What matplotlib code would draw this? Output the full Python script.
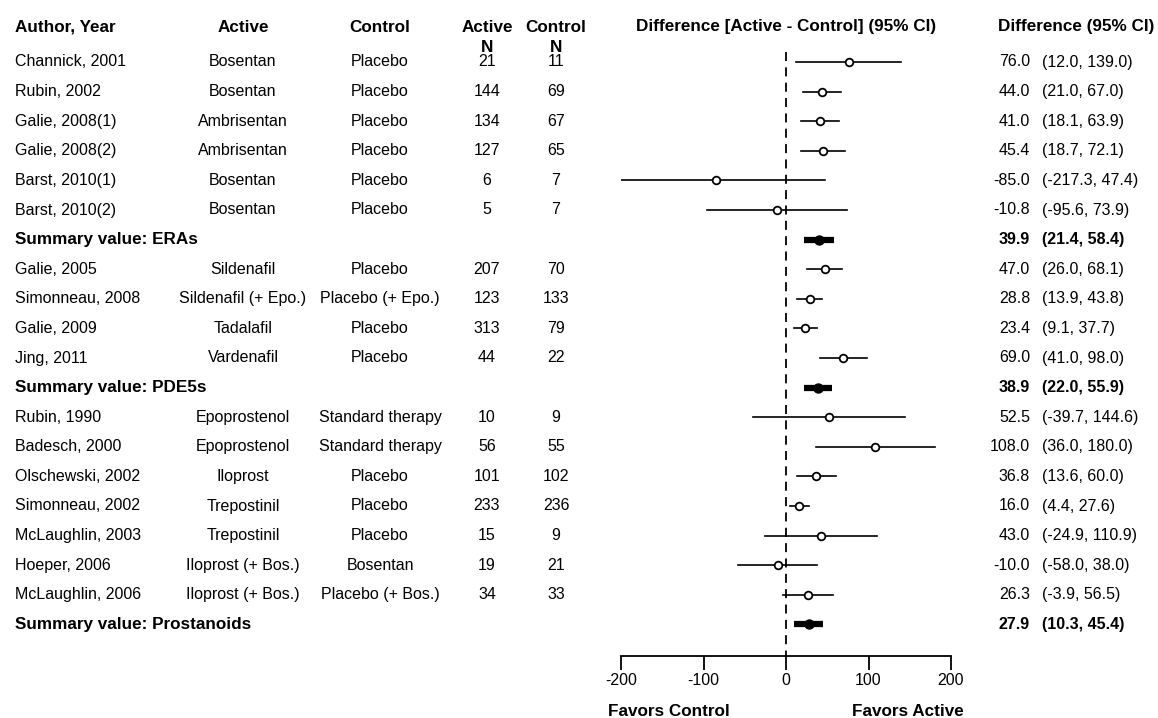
import matplotlib
matplotlib.use("Agg")
import matplotlib.pyplot as plt
import matplotlib.transforms as mtransforms

plt.rcParams['font.family'] = ['Liberation Sans', 'DejaVu Sans']

# Donnees du forest plot
authors = ["Channick, 2001", "Rubin, 2002", "Galie, 2008(1)", "Galie, 2008(2)",
           "Barst, 2010(1)", "Barst, 2010(2)", "Summary value: ERAs",
           "Galie, 2005", "Simonneau, 2008", "Galie, 2009", "Jing, 2011",
           "Summary value: PDE5s",
           "Rubin, 1990", "Badesch, 2000", "Olschewski, 2002", "Simonneau, 2002",
           "McLaughlin, 2003", "Hoeper, 2006", "McLaughlin, 2006",
           "Summary value: Prostanoids"]
actives = ["Bosentan", "Bosentan", "Ambrisentan", "Ambrisentan", "Bosentan", "Bosentan", "",
           "Sildenafil", "Sildenafil (+ Epo.)", "Tadalafil", "Vardenafil", "",
           "Epoprostenol", "Epoprostenol", "Iloprost", "Trepostinil", "Trepostinil",
           "Iloprost (+ Bos.)", "Iloprost (+ Bos.)", ""]
controls = ["Placebo", "Placebo", "Placebo", "Placebo", "Placebo", "Placebo", "",
            "Placebo", "Placebo (+ Epo.)", "Placebo", "Placebo", "",
            "Standard therapy", "Standard therapy", "Placebo", "Placebo", "Placebo",
            "Bosentan", "Placebo (+ Bos.)", ""]
n_active = ["21", "144", "134", "127", "6", "5", "",
            "207", "123", "313", "44", "",
            "10", "56", "101", "233", "15", "19", "34", ""]
n_control = ["11", "69", "67", "65", "7", "7", "",
             "70", "133", "79", "22", "",
             "9", "55", "102", "236", "9", "21", "33", ""]
est = [76.0, 44.0, 41.0, 45.4, -85.0, -10.8, 39.9,
       47.0, 28.8, 23.4, 69.0, 38.9,
       52.5, 108.0, 36.8, 16.0, 43.0, -10.0, 26.3, 27.9]
lo = [12.0, 21.0, 18.1, 18.7, -217.3, -95.6, 21.4,
      26.0, 13.9, 9.1, 41.0, 22.0,
      -39.7, 36.0, 13.6, 4.4, -24.9, -58.0, -3.9, 10.3]
hi = [139.0, 67.0, 63.9, 72.1, 47.4, 73.9, 58.4,
      68.1, 43.8, 37.7, 98.0, 55.9,
      144.6, 180.0, 60.0, 27.6, 110.9, 38.0, 56.5, 45.4]
is_summary = [a.startswith("Summary") for a in authors]
x_ticks = [-200, -100, 0, 100, 200]

W, H = 1158, 718
fig = plt.figure(figsize=(W / 100, H / 100), dpi=100)

# axe du forest plot : -200..200 -> pixels 621..951
row0, step = 62, 29.6
ax = fig.add_axes([621 / W, 0, 330 / W, 1])
ax.set_xlim(-200, 200)
ax.set_ylim((H - row0) / step, -row0 / step)

def row_of(py):
    return (py - row0) / step

fs = 11.5     # texte courant
hfs = 12.3    # en-tetes

for s in ['top', 'left', 'right']:
    ax.spines[s].set_visible(False)
ax.spines['bottom'].set_position(('data', row_of(656)))
ax.spines['bottom'].set_bounds(-200, 200)
ax.spines['bottom'].set_linewidth(1.3)
ax.set_xticks(x_ticks)
ax.set_xticklabels([str(t) for t in x_ticks])
ax.tick_params(axis='x', direction='out', length=10, width=1.3, pad=2, labelsize=fs)
ax.set_yticks([])
ax.patch.set_alpha(0)

# ligne verticale a zero
ax.plot([0, 0], [row_of(52), row_of(656)], color='black', lw=1.3, ls=(0, (5, 3.5)))

for i in range(len(authors)):
    if is_summary[i]:
        ax.plot([lo[i], hi[i]], [i, i], color='black', lw=4.5, solid_capstyle='butt')
        ax.plot(est[i], i, marker='o', ms=6.5, color='black')
    else:
        ax.plot([lo[i], hi[i]], [i, i], color='black', lw=1.2)
        ax.plot(est[i], i, marker='o', ms=5.5, mfc='white', mec='black', mew=1.3)

ax.text(-142, row_of(711), "Favors Control", ha='center', va='center',
        fontsize=hfs, fontweight='bold')
ax.text(148, row_of(711), "Favors Active", ha='center', va='center',
        fontsize=hfs, fontweight='bold')

# colonnes de texte
tr = mtransforms.blended_transform_factory(fig.transFigure, ax.transData)
hy = row_of(27)
ny = row_of(48)
ax.text(15 / W, hy, "Author, Year", transform=tr, ha='left', va='center', fontsize=hfs, fontweight='bold')
ax.text(243 / W, hy, "Active", transform=tr, ha='center', va='center', fontsize=hfs, fontweight='bold')
ax.text(380 / W, hy, "Control", transform=tr, ha='center', va='center', fontsize=hfs, fontweight='bold')
ax.text(487 / W, hy, "Active", transform=tr, ha='center', va='center', fontsize=hfs, fontweight='bold')
ax.text(556 / W, hy, "Control", transform=tr, ha='center', va='center', fontsize=hfs, fontweight='bold')
ax.text(487 / W, ny, "N", transform=tr, ha='center', va='center', fontsize=hfs, fontweight='bold')
ax.text(556 / W, ny, "N", transform=tr, ha='center', va='center', fontsize=hfs, fontweight='bold')
ax.text(0, hy, "Difference [Active - Control] (95% CI)", ha='center', va='center',
        fontsize=hfs, fontweight='bold')
ax.text(998 / W, hy, "Difference (95% CI)", transform=tr, ha='left', va='center',
        fontsize=hfs, fontweight='bold')

for i in range(len(authors)):
    fw = 'bold' if is_summary[i] else 'normal'
    afs = hfs if is_summary[i] else fs
    ax.text(15 / W, i, authors[i], transform=tr, ha='left', va='center', fontsize=afs, fontweight=fw)
    ax.text(243 / W, i, actives[i], transform=tr, ha='center', va='center', fontsize=fs)
    ax.text(380 / W, i, controls[i], transform=tr, ha='center', va='center', fontsize=fs)
    ax.text(487 / W, i, n_active[i], transform=tr, ha='center', va='center', fontsize=fs)
    ax.text(556 / W, i, n_control[i], transform=tr, ha='center', va='center', fontsize=fs)
    ax.text(1030 / W, i, f"{est[i]:.1f}", transform=tr, ha='right', va='center',
            fontsize=fs, fontweight=fw)
    ax.text(1042 / W, i, f"({lo[i]:.1f}, {hi[i]:.1f})", transform=tr, ha='left', va='center',
            fontsize=fs, fontweight=fw)

fig.savefig("out.png", dpi=100)
